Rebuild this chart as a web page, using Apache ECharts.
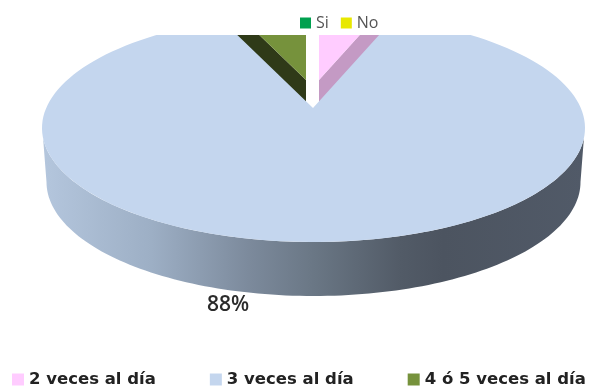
<!DOCTYPE html>
<html>
<head>
<meta charset="utf-8">
<style>html,body{margin:0;padding:0;background:#fff}#chart{width:589px;height:387px}</style>
<script src="https://cdn.jsdelivr.net/npm/echarts@6/dist/echarts.min.js"></script>
</head>
<body>
<div id="chart"></div>
<script>
// Share of answers per daily frequency, in percent
const categories = ['2 veces al día', '3 veces al día', '4 ó 5 veces al día'];
const shares = [6, 88, 6];
const topColors = ['#ffccff', '#c4d6ee', '#76923c'];
const wallColors = ['#c49ac4', null, '#2f3a18'];
// Second legend, it has no slices of its own
const answerNames = ['Si', 'No'];
const answerColors = ['#00a04f', '#e8e800'];

// Projection of the tilted disc
const disc = { cx: 313.5, cy: 128, rx: 271.5, ry: 114, depth: 54, bottomRx: 267, clipTop: 35 };
// Where each slice's tip lands once the slices are pulled apart
const tips = [{ x: 319, y: 80 }, { x: 313, y: 108 }, { x: 306, y: 80 }];

const total = shares.reduce((a, b) => a + b, 0);
const startAngles = shares.map((_, i) =>
  shares.slice(0, i).reduce((a, b) => a + b, 0) / total * Math.PI * 2);

// Direction of a radial edge on screen; the camera sits a little right of centre,
// so edges on the left fan out wider than those on the right
function dir(theta) {
  const s = Math.sin(theta);
  return { x: disc.rx * s * (s > 0 ? 0.96 : 1.1), y: -disc.ry * Math.cos(theta) };
}
// Parameter along the ellipse where a ray from the tip leaves the disc
function rayExit(tip, theta) {
  const d = dir(theta);
  const ox = (tip.x - disc.cx) / disc.rx, oy = (tip.y - disc.cy) / disc.ry;
  const dx = d.x / disc.rx, dy = d.y / disc.ry;
  const a = dx * dx + dy * dy, b = 2 * (ox * dx + oy * dy), c = ox * ox + oy * oy - 1;
  const t = (-b + Math.sqrt(b * b - 4 * a * c)) / (2 * a);
  return Math.atan2(ox + dx * t, -(oy + dy * t));
}

function centreSlice(tip, from, to, color) {
  let a0 = rayExit(tip, from), a1 = rayExit(tip, to);
  if (a1 < a0) a1 += Math.PI * 2;
  const points = [[tip.x, tip.y]];
  for (let i = 0; i <= 160; i++) {
    const a = a0 + (a1 - a0) * i / 160;
    points.push([disc.cx + disc.rx * Math.sin(a), disc.cy - disc.ry * Math.cos(a)]);
  }
  return { type: 'polygon', shape: { points }, style: { fill: color } };
}

function frontWall() {
  const points = [];
  for (let i = 0; i <= 120; i++) {
    const a = Math.PI / 2 + 0.09 + (Math.PI - 0.18) * i / 120;
    points.push([disc.cx + disc.rx * Math.sin(a), disc.cy - disc.ry * Math.cos(a)]);
  }
  for (let i = 120; i >= 0; i--) {
    const a = Math.PI / 2 + Math.PI * i / 120;
    points.push([disc.cx + disc.bottomRx * Math.sin(a), disc.cy + disc.depth - disc.ry * Math.cos(a)]);
  }
  return {
    type: 'polygon', shape: { points },
    style: {
      fill: new echarts.graphic.LinearGradient(0, 0, 1, 0, [
        { offset: 0, color: '#b4c6dd' },
        { offset: 0.2, color: '#9dafc5' },
        { offset: 0.38, color: '#7c8a9c' },
        { offset: 0.5, color: '#6a7785' },
        { offset: 0.66, color: '#525b67' },
        { offset: 0.74, color: '#4c5460' },
        { offset: 1, color: '#515a68' }
      ])
    }
  };
}

function wedge(tip, from, to, color) {
  const points = [[tip.x, tip.y]];
  for (let i = 0; i <= 12; i++) {
    const d = dir(from + (to - from) * i / 12);
    points.push([tip.x + d.x, tip.y + d.y]);
  }
  return { type: 'polygon', shape: { points }, style: { fill: color } };
}

function edgeWall(tip, theta, color) {
  const d = dir(theta), h = disc.depth;
  return {
    type: 'polygon',
    shape: { points: [[tip.x, tip.y], [tip.x + d.x, tip.y + d.y], [tip.x + d.x, tip.y + d.y + h], [tip.x, tip.y + h]] },
    style: { fill: color }
  };
}

function sliceRenderer(index) {
  return function (params, api) {
    const value = api.value(0);
    const from = startAngles[index];
    const to = from + value / total * Math.PI * 2;
    const tip = tips[index];
    const children = [];
    if (wallColors[index]) {
      children.push(edgeWall(tip, index === 0 ? to : from, wallColors[index]));
      children.push(wedge(tip, from, to, topColors[index]));
    } else {
      children.push(frontWall());
      children.push(centreSlice(tip, from, to, topColors[index]));
    }
    return {
      type: 'group',
      clipPath: { type: 'rect', shape: { x: 0, y: disc.clipTop, width: 589, height: 352 } },
      children
    };
  };
}

// Only the large slice keeps a visible percentage under the disc
function percentLabel(params, api) {
  return {
    type: 'text',
    style: {
      x: 228, y: 305, text: api.value(0) + '%', align: 'center', verticalAlign: 'middle',
      fill: '#2b2b2b', font: '600 21px "Open Sans"'
    }
  };
}

const sliceSeries = categories.map((name, i) => ({
  type: 'custom', name, coordinateSystem: 'none', silent: true, animation: false,
  z: i === 1 ? 3 : 2,
  itemStyle: { color: topColors[i] },
  renderItem: sliceRenderer(i),
  data: [[shares[i]]]
}));
const answerSeries = answerNames.map((name, i) => ({
  type: 'custom', name, coordinateSystem: 'none', silent: true, animation: false,
  itemStyle: { color: answerColors[i] },
  renderItem: () => null,
  data: []
}));
const labelSeries = {
  type: 'custom', coordinateSystem: 'none', silent: true, animation: false, z: 4,
  renderItem: percentLabel,
  data: [[shares[1]]]
};

const chart = echarts.init(document.getElementById('chart'), null, { renderer: 'canvas' });
chart.setOption({
  animation: false,
  backgroundColor: '#ffffff',
  legend: [
    {
      data: answerNames, left: 300, top: 15, icon: 'rect', itemWidth: 11, itemHeight: 11, itemGap: 12,
      padding: 0, selectedMode: false,
      textStyle: { color: '#555555', fontFamily: 'Open Sans', fontSize: 16 }
    },
    {
      data: categories, left: 12, top: 371, icon: 'rect', itemWidth: 12, itemHeight: 12, itemGap: 54,
      padding: 0, selectedMode: false,
      textStyle: { color: '#222222', fontFamily: 'DejaVu Sans', fontWeight: 'bold', fontSize: 16.5 }
    }
  ],
  series: [...sliceSeries, ...answerSeries, labelSeries]
});
</script>
</body>
</html>
